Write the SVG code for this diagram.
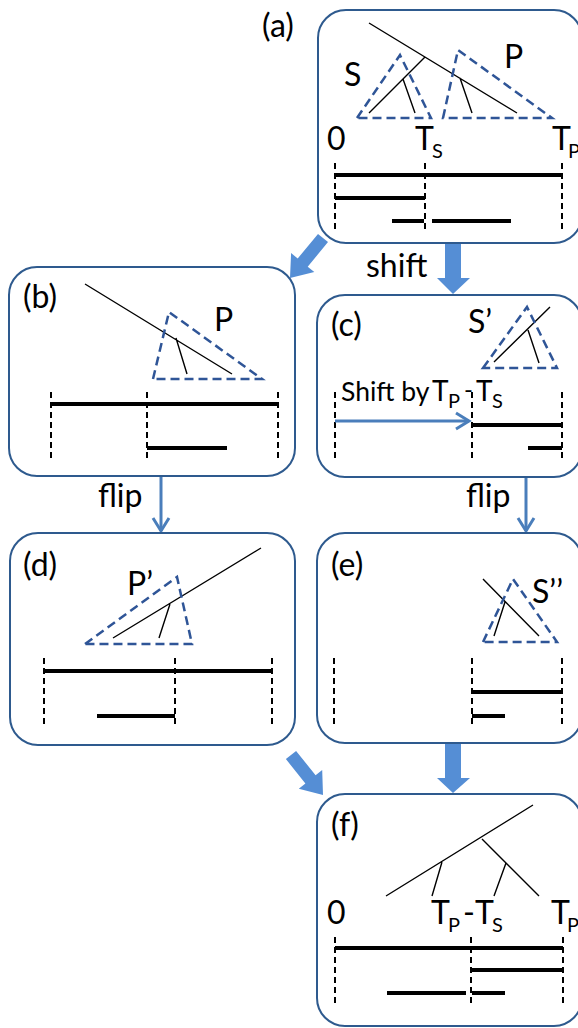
<svg xmlns="http://www.w3.org/2000/svg" width="578" height="1028" viewBox="0 0 578 1028">
<style>
  .box { fill: #ffffff; stroke: #2E5A8E; stroke-width: 2; }
  .tri { fill: none; stroke: #2F5597; stroke-width: 2.5; stroke-dasharray: 9 5; stroke-linejoin: miter; }
  .tree { fill: none; stroke: #000; stroke-width: 1.4; }
  .bar { fill: none; stroke: #000; stroke-width: 4; }
  .vd { fill: none; stroke: #000; stroke-width: 2; stroke-dasharray: 6 4; }
  .t { font-family: Lato, "Liberation Sans", sans-serif; font-size: 32px; fill: #000; }
  .sub { font-family: Lato, "Liberation Sans", sans-serif; font-size: 20px; fill: #000; }
  .big { fill: #558ED5; stroke: none; }
  .thin { fill: none; stroke: #4A7EBB; stroke-width: 3; }
</style>
<defs>
  <marker id="open" viewBox="0 0 20 20" refX="17" refY="10" markerWidth="20" markerHeight="20" markerUnits="userSpaceOnUse" orient="auto">
    <path d="M4,2 L17,10 L4,18" fill="none" stroke="#4A7EBB" stroke-width="3"/>
  </marker>
</defs>

<g id="connectors">
  <polygon class="big" points="328,242.1 318,233.9 297.7,258.5 291.1,253.1 290,278 314.3,272.1 307.7,266.7"/>
  <polygon class="big" points="445,243 461,243 461,278 470,278 453,294 437,278 445,278"/>
  <text class="t" x="366" y="277">shift</text>
  <line class="thin" x1="161" y1="477" x2="161" y2="531" marker-end="url(#open)"/>
  <text class="t" x="98" y="507">flip</text>
  <line class="thin" x1="526" y1="477" x2="526" y2="531" marker-end="url(#open)"/>
  <text class="t" x="466" y="507">flip</text>
  <polygon class="big" points="445,743 461,743 461,778 470,778 453,793 437,778 445,778"/>
  <polygon class="big" points="296.1,750.9 285.9,759.1 305.4,783.5 298.8,788.8 323,795 322.2,770 315.6,775.3"/>
</g>

<g id="node-a">
  <rect class="box" x="318" y="10" width="264" height="233" rx="28"/>
  <text class="t" x="262" y="37">(a)</text>
  <path class="tree" d="M369,23 L517,113 M425,57 L369,113 M403,79 L415,113 M460,78 L472,113"/>
  <polygon class="tri" points="357,118 400,55 431,118"/>
  <polygon class="tri" points="443,118 458,50 552,118"/>
  <text class="t" x="344" y="86">S</text>
  <text class="t" x="504" y="68">P</text>
  <text class="t" x="327" y="150">0</text>
  <text class="t" x="415" y="150">T</text><text class="sub" x="432" y="158">S</text>
  <text class="t" x="552" y="150">T</text><text class="sub" x="568" y="158">P</text>
  <path class="vd" d="M335,163 V230 M425,163 V230 M562,163 V230"/>
  <path class="bar" d="M335,175 H562 M335,198 H425 M392,221 H424 M432,221 H511"/>
</g>

<g id="node-b">
  <rect class="box" x="9" y="267" width="286" height="209" rx="28"/>
  <text class="t" x="23" y="308">(b)</text>
  <path class="tree" d="M85,284 L232,374 M176,338 L187,374"/>
  <polygon class="tri" points="153,379 169,312 262,379"/>
  <text class="t" x="214" y="331">P</text>
  <path class="vd" d="M51,392 V458 M147,392 V458 M278,392 V458"/>
  <path class="bar" d="M51,404 H278 M147,448 H227"/>
</g>

<g id="node-c">
  <rect class="box" x="317" y="295" width="265" height="182" rx="28"/>
  <text class="t" x="331" y="336">(c)</text>
  <path class="tree" d="M550,307 L494,362 M528,330 L539,363"/>
  <polygon class="tri" points="483,368 527,307 557,368"/>
  <text class="t" x="468" y="333">S’</text>
  <text class="t" x="341" y="401" style="font-size:26.5px">Shift by</text>
  <text class="t" x="432" y="401" style="font-size:28px">T</text><text class="sub" x="448" y="408">P</text>
  <text class="t" x="464" y="398" style="font-size:24px">-</text>
  <text class="t" x="476" y="401" style="font-size:28px">T</text><text class="sub" x="492" y="408">S</text>
  <path class="vd" d="M335,392 V458 M472,392 V458 M562,392 V458"/>
  <line class="thin" x1="335" y1="421" x2="469" y2="421" marker-end="url(#open)"/>
  <path class="bar" d="M472,425 H562 M528,448 H562"/>
</g>

<g id="node-d">
  <rect class="box" x="10" y="533" width="285" height="212" rx="28"/>
  <text class="t" x="23" y="576">(d)</text>
  <path class="tree" d="M261,548 L113,638 M170,604 L159,638"/>
  <polygon class="tri" points="85,644 177,577 192,644"/>
  <text class="t" x="127" y="595">P’</text>
  <path class="vd" d="M44,658 V728 M175,658 V728 M272,658 V728"/>
  <path class="bar" d="M44,671 H272 M97,716 H175"/>
</g>

<g id="node-e">
  <rect class="box" x="317" y="533" width="265" height="210" rx="28"/>
  <text class="t" x="331" y="576">(e)</text>
  <path class="tree" d="M483,579 L539,636 M505,602 L494,636"/>
  <polygon class="tri" points="483,642 513,579 557,642"/>
  <text class="t" x="532" y="603">S’’</text>
  <path class="vd" d="M334,658 V725 M472,658 V725 M562,658 V725"/>
  <path class="bar" d="M472,692 H562 M472,716 H505"/>
</g>

<g id="node-f">
  <rect class="box" x="317" y="794" width="265" height="232" rx="28"/>
  <text class="t" x="331" y="836">(f)</text>
  <path class="tree" d="M533,805 L386,896 M482,839 L539,896 M442,862 L432,896 M506,863 L494,896"/>
  <text class="t" x="327" y="924">0</text>
  <text class="t" x="431" y="924">T</text><text class="sub" x="448" y="932">P</text>
  <text class="t" x="463" y="924">-</text>
  <text class="t" x="475" y="924">T</text><text class="sub" x="492" y="932">S</text>
  <text class="t" x="551" y="924">T</text><text class="sub" x="567" y="932">P</text>
  <path class="vd" d="M335,937 V1003 M471,937 V1003 M563,937 V1003"/>
  <path class="bar" d="M335,948 H563 M471,970 H563 M387,993 H466 M472,993 H505"/>
</g>
</svg>
